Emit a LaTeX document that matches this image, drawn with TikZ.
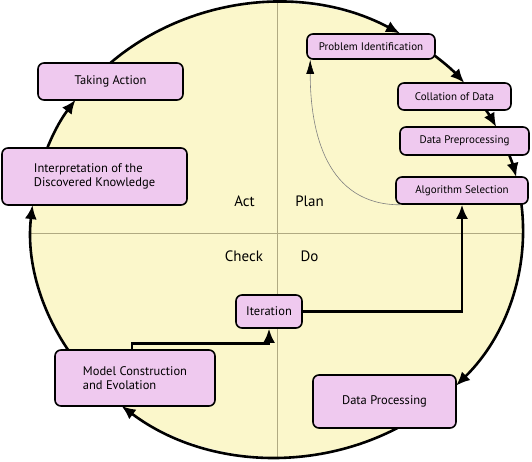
\documentclass[tikz,border=0pt]{standalone}
\usepackage{fontspec}
\setmainfont{PT Sans}
\usepackage{tikz}
\usetikzlibrary{arrows.meta,calc}

\definecolor{boxpink}{RGB}{239,201,239}
\definecolor{cycleyellow}{RGB}{251,247,203}
\definecolor{axisgray}{RGB}{176,170,130}

\begin{document}
\begin{tikzpicture}[x=1pt, y=1pt, box/.style = {draw, line width=1.6pt, rounded corners=6pt, fill=boxpink, inner sep=0pt, font=\fontsize{12.5}{14}\selectfont}, small/.style = {font=\fontsize{11}{13}\selectfont}, cyc/.style = {line width=2.6pt, -{Latex[length=14pt,width=12pt]}}, quad/.style = {font=\fontsize{15}{18}\selectfont}]

\useasboundingbox (0,0) rectangle (532,461);

% the cycle
\fill[cycleyellow] (277,231) ellipse [x radius=246, y radius=227];
\begin{scope}
\clip (277,231) ellipse [x radius=246, y radius=227];
\draw[axisgray, line width=0.8pt] (277,0) -- (277,461);
\draw[axisgray, line width=0.8pt] (0,228) -- (532,228);
\end{scope}

\node[quad] (act) at (244.5,260) {Act};
\node[quad] (plan) at (309.5,260) {Plan};
\node[quad] (check) at (244,205) {Check};
\node[quad] (do) at (309.5,205) {Do};

% arcs round the circle
\draw[cyc] (277,231) ++(140:246 and 227) arc[start angle=140, end angle=60, x radius=246, y radius=227];
\draw[cyc] (277,231) ++(55:246 and 227) arc[start angle=55, end angle=40.4, x radius=246, y radius=227];
\draw[cyc] (277,231) ++(35:246 and 227) arc[start angle=35, end angle=27, x radius=246, y radius=227];
\draw[cyc] (277,231) ++(22:246 and 227) arc[start angle=22, end angle=13.5, x radius=246, y radius=227];
\draw[cyc] (277,231) ++(10:246 and 227) arc[start angle=10, end angle=-43.3, x radius=246, y radius=227];
\draw[cyc] (277,231) ++(-50:246 and 227) arc[start angle=-50, end angle=-129.2, x radius=246, y radius=227];
\draw[cyc] (277,231) ++(220:246 and 227) arc[start angle=220, end angle=173.7, x radius=246, y radius=227];
\draw[cyc] (277,231) ++(170:246 and 227) arc[start angle=170, end angle=145, x radius=246, y radius=227];

% steps
\node[box, small, minimum width=128pt, minimum height=25pt] (pid) at (371,414.5) {Problem Identification};
\node[box, small, minimum width=113pt, minimum height=27pt] (coll) at (454.5,364.5) {Collation of Data};
\node[box, small, minimum width=129pt, minimum height=28pt] (pre) at (464.5,320) {Data Preprocessing};
\node[box, small, minimum width=132pt, minimum height=27pt] (alg) at (462,270.5) {Algorithm Selection};
\node[box, minimum width=143pt, minimum height=53pt] (dp) at (384.5,59.5) {Data Processing};
\node[box, minimum width=66pt, minimum height=33pt] (iter) at (269,149.5) {Iteration};
\node[box, minimum width=160pt, minimum height=56pt, align=left] (mc) at (135,83) {Model Construction\\and Evolation};
\node[box, minimum width=185pt, minimum height=57pt, align=left] (int) at (94.5,284.5) {Interpretation of the\\Discovered Knowledge};
\node[box, minimum width=145pt, minimum height=37pt] (ta) at (110.5,379.5) {Taking Action};

\draw[cyc] (iter.east) -| (alg.south);
\draw[cyc] ([xshift=-3pt]mc.north) -- ++(0,6) -| (iter.south);
\draw[gray, line width=0.6pt, -{Latex[length=14pt,width=8pt,color=black]}] (alg.193) to[out=180, in=-90, looseness=1.1] ([xshift=4pt]pid.south west);
\end{tikzpicture}
\end{document}
